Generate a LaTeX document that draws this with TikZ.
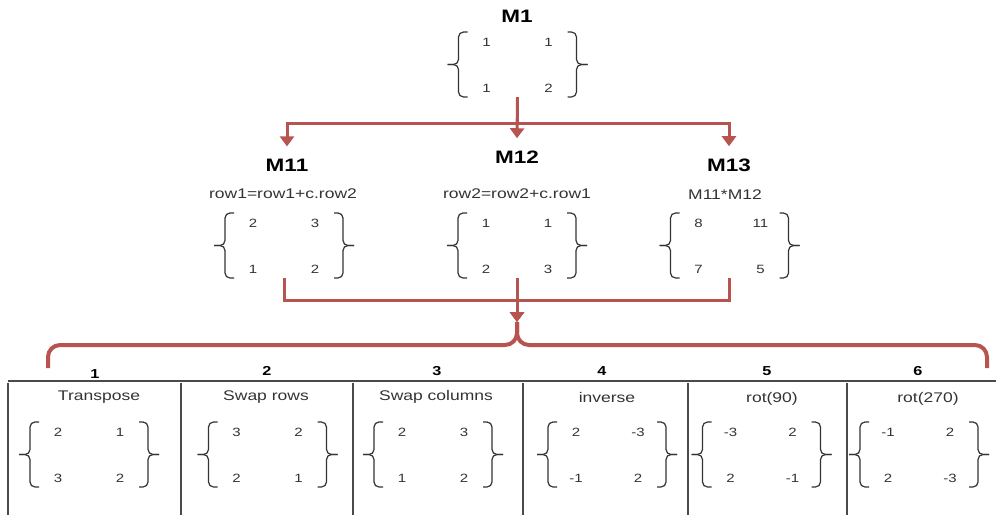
\documentclass[tikz,border=0pt]{standalone}
\usepackage{fontspec}
\setmainfont[FakeStretch=1.25]{Liberation Sans}
\usetikzlibrary{arrows.meta}
\definecolor{flowred}{HTML}{B85450}
\definecolor{ink}{HTML}{333333}
\definecolor{rulegray}{HTML}{4A4A4A}
\begin{document}
\begin{tikzpicture}[x=1pt,y=-1pt,
  mbrace/.style={draw=ink, line width=1.2pt, rounded corners=5pt},
  entry/.style={font=\fontsize{12}{14}\selectfont, text=ink, inner sep=0pt},
  mtitle/.style={font=\bfseries\fontsize{18}{20}\selectfont, inner xsep=2pt, inner ysep=12pt, anchor=base},
  oplabel/.style={font=\fontsize{14}{16}\selectfont, text=ink, inner sep=1pt, anchor=base},
  colnum/.style={font=\bfseries\fontsize{13}{15}\selectfont, inner sep=1pt, anchor=base},
  flow/.style={draw=flowred, line width=3pt, -{Triangle[width=14pt,length=10pt]}},
  tablerule/.style={draw=rulegray, line width=1.6pt},
  pics/mat/.style n args={4}{code={
    \node[minimum width=140pt, minimum height=65pt, inner sep=0pt] (-box) at (0,0) {};
    % left curly bracket
    \draw[mbrace] (-50,-32.5) -- (-59,-32.5) -- (-59,0) -- (-70,0);
    \draw[mbrace] (-70,0) -- (-59,0) -- (-59,32.5) -- (-50,32.5);
    % right curly bracket
    \draw[mbrace] (50,-32.5) -- (59,-32.5) -- (59,0) -- (70,0);
    \draw[mbrace] (70,0) -- (59,0) -- (59,32.5) -- (50,32.5);
    % entries
    \node[entry] (-a) at (-31,-22) {#1};
    \node[entry] (-b) at (31,-22) {#2};
    \node[entry] (-c) at (-31,24) {#3};
    \node[entry] (-d) at (31,24) {#4};
  }}
]
\useasboundingbox (0,0) rectangle (996,517);

% source matrix
\node[mtitle] (t1) at (517,22) {M1};
\pic (m1) at (517.5,64.5) {mat={1}{1}{1}{2}};

% derived matrices
\node[mtitle] (t11) at (287,171) {M11};
\node[mtitle] (t12) at (517,163) {M12};
\node[mtitle] (t13) at (729,171) {M13};
\node[oplabel] (r11) at (283,198) {row1=row1+c.row2};
\node[oplabel] (r12) at (517,198) {row2=row2+c.row1};
\node[oplabel] (r13) at (725,199) {M11*M12};
\pic (m11) at (284,245.5) {mat={2}{3}{1}{2}};
\pic (m12) at (517,245.5) {mat={1}{1}{2}{3}};
\pic (m13) at (729.5,245.5) {mat={8}{11}{7}{5}};

% M1 feeds the three derived matrices
\draw[flow] (m1-box.south) -- ++(0,26) -| (t11.north);
\draw[flow] (m1-box.south) -- (t12.north);
\draw[flow] (m1-box.south) -- ++(0,26) -| (t13.north);

% grouping bracket over the operations table
\coordinate (cusp) at (517,322);
\draw[draw=flowred, line width=4pt, rounded corners=12pt] (48,368) -- (48,345) -- (517,345) -- (cusp);
\draw[draw=flowred, line width=4pt, rounded corners=12pt] (987,368) -- (987,345) -- (517,345) -- (cusp);

% derived matrices feed the bracket
\draw[flow] (m11-box.south) -- ++(0,22) -| (cusp);
\draw[flow] (m12-box.south) -- (cusp);
\draw[flow] (m13-box.south) -- ++(0,22) -| (cusp);

% operations table
\draw[tablerule] (8,381) -- (996,381);
\foreach \cx in {8,181,353,523,688,847}
  \draw[tablerule] (\cx,383) -- (\cx,515);

\node[colnum] (c1) at (95,378) {1};
\node[colnum] (c2) at (267,375) {2};
\node[colnum] (c3) at (437,375) {3};
\node[colnum] (c4) at (602,375) {4};
\node[colnum] (c5) at (767,375) {5};
\node[colnum] (c6) at (918,375) {6};

\node[oplabel] (o1) at (99,400) {Transpose};
\node[oplabel] (o2) at (266,400) {Swap rows};
\node[oplabel] (o3) at (436,400) {Swap columns};
\node[oplabel] (o4) at (607,402) {inverse};
\node[oplabel] (o5) at (772,402) {rot(90)};
\node[oplabel] (o6) at (928,402) {rot(270)};

\pic (x1) at (89,454.5) {mat={2}{1}{3}{2}};
\pic (x2) at (267.5,454.5) {mat={3}{2}{2}{1}};
\pic (x3) at (433,454.5) {mat={2}{3}{1}{2}};
\pic (x4) at (607,454.5) {mat={2}{-3}{-1}{2}};
\pic (x5) at (761.5,454.5) {mat={-3}{2}{2}{-1}};
\pic (x6) at (919,454.5) {mat={-1}{2}{2}{-3}};
\end{tikzpicture}
\end{document}
